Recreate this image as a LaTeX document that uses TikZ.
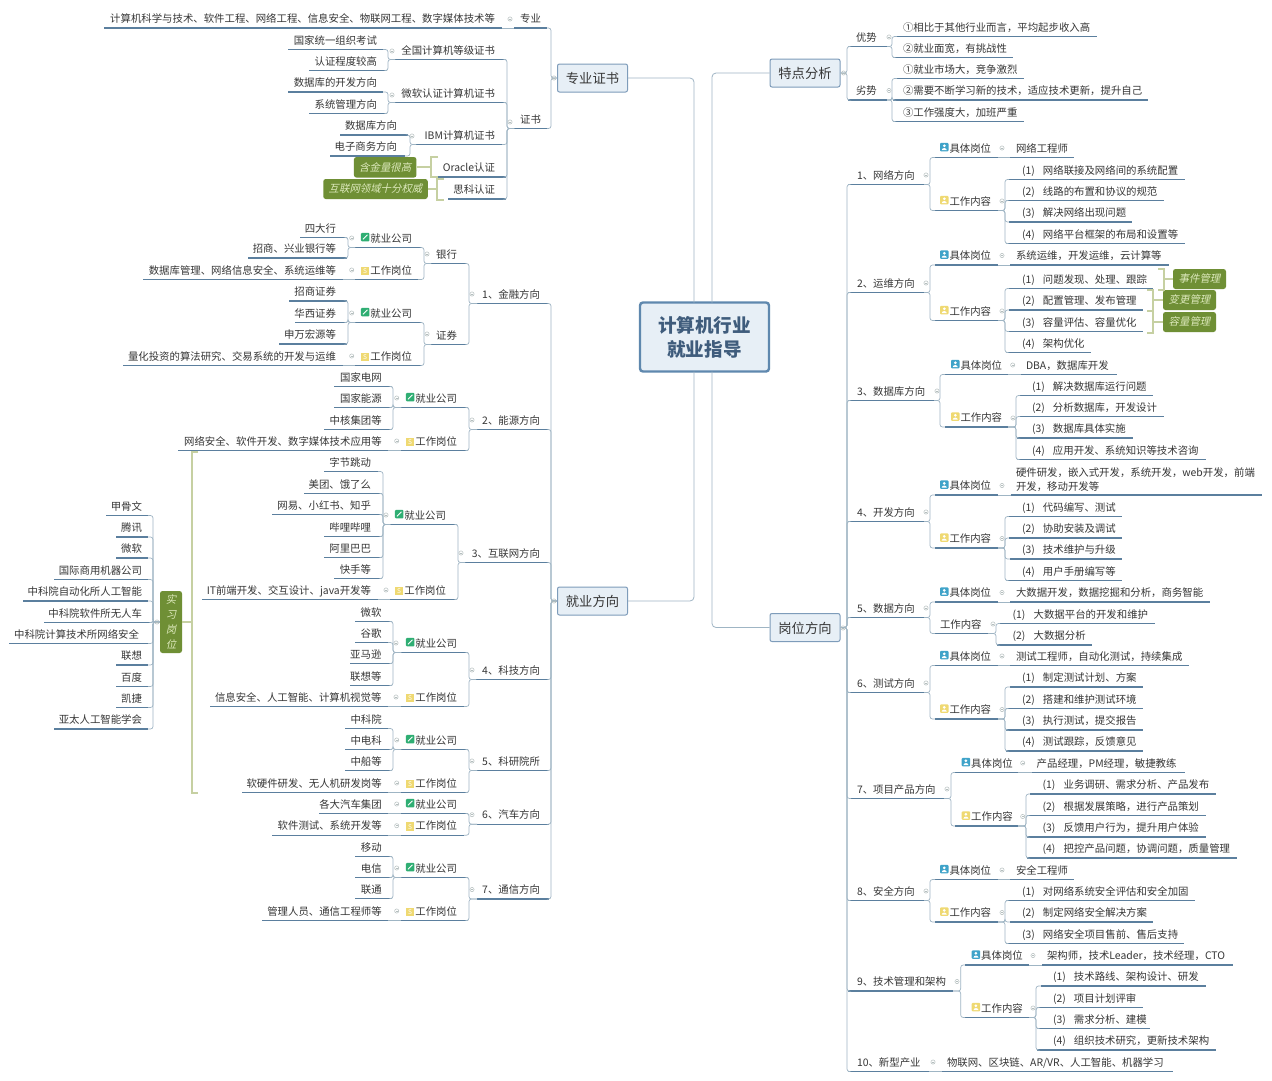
\documentclass[tikz,border=0pt]{standalone}
\usepackage{fontspec}
\setmainfont{Noto Sans CJK SC}
\newfontfamily\slfont[FakeSlant=0.22]{Noto Sans CJK SC}
\usetikzlibrary{calc}
\definecolor{txt}{HTML}{363636}
\definecolor{ulc}{HTML}{5B7F9E}
\definecolor{conc}{HTML}{9FB5C4}
\definecolor{brkc}{HTML}{C6D0A2}
\definecolor{tagc}{HTML}{6F8F35}
\definecolor{tagt}{HTML}{DDE9BC}
\definecolor{boxf}{HTML}{E7EFF6}
\definecolor{boxd}{HTML}{7E9CBA}
\definecolor{rootd}{HTML}{5F88AE}
\definecolor{roott}{HTML}{3F5C7C}
\definecolor{mkc}{HTML}{B4BEBE}
\definecolor{icg}{HTML}{2FAE73}
\definecolor{icy}{HTML}{EFD972}
\definecolor{icb}{HTML}{3FA3C9}
\newcommand{\fsz}{\fontsize{10.4}{12.5}\selectfont}
\newcommand{\gp}{~~\hspace{3.5pt}}
\tikzset{
 leaf/.style={inner sep=0pt,outer sep=0pt,minimum height=19pt,text height=9.5pt,text depth=1pt,font=\fsz,text=txt},
 leafm/.style={inner sep=0pt,outer sep=0pt,font=\fontsize{10.4}{13.5}\selectfont,text=txt},
 ul/.style={draw=ulc,line width=1.1pt},
 conn/.style={draw=conc,line width=0.7pt,rounded corners=2.5pt},
 trunk/.style={draw=conc,line width=0.8pt,rounded corners=4pt},
 mkr/.style={draw=mkc,line width=0.5pt},
 brk/.style={draw=brkc,line width=2pt},
 secbox/.style={draw=boxd,fill=boxf,line width=1pt,rounded corners=2pt,inner sep=0pt,minimum width=70pt,minimum height=28pt,text=txt,text height=12.5pt,text depth=1pt,font=\fontsize{13.3}{16}\selectfont},
 rootbox/.style={draw=rootd,fill=boxf,line width=2.4pt,rounded corners=3pt,inner sep=0pt,minimum width=129pt,minimum height=69pt,text=roott,align=center,font=\fontsize{18.6}{24}\selectfont\bfseries},
 tagbox/.style={fill=tagc,rounded corners=2.5pt,inner sep=0pt,text=tagt,font=\fontsize{10.4}{14.7}\selectfont\slfont,align=center},
}
\newcommand{\icBody}{\fill[white] (4.25,5.6) circle (1.5); \fill[white] (1.7,1.2) .. controls (1.9,4) and (6.6,4) .. (6.8,1.2) -- cycle;}
\newcommand{\icG}{\tikz[x=1pt,y=1pt,baseline={(0,0.9)}]{\fill[icg,rounded corners=1pt] (0,0) rectangle (8.5,8.5); \draw[white,line width=1pt] (2,2) -- (6.6,6.6);}\hspace{1pt}}
\newcommand{\icB}{\tikz[x=1pt,y=1pt,baseline={(0,0.9)}]{\fill[icb,rounded corners=1pt] (0,0) rectangle (8.5,8.5); \icBody}\hspace{1pt}}
\newcommand{\icP}{\tikz[x=1pt,y=1pt,baseline={(0,0.9)}]{\fill[icy,rounded corners=1pt] (0,0) rectangle (8.5,8.5); \icBody}\hspace{1pt}}
\newcommand{\icS}{\raisebox{-0.9pt}{\makebox[8.5pt][l]{\textcolor{icy}{\rule{8.5pt}{8.5pt}}\llap{\makebox[8.5pt]{\raisebox{1.2pt}{\fontsize{6.5}{7}\selectfont\textcolor{white}{S}}}}}}\hspace{1pt}}
% name xl xr text-right yc text
\newcommand{\LN}[6]{\pgfmathsetmacro\tmW{#3-#2}\pgfmathsetmacro\tmP{#3-#4}\pgfmathsetmacro\tmX{(#2+#3)/2}%
 \node[leaf,minimum width=\tmW pt] (#1) at (\tmX,#5) {\makebox[\tmW pt][r]{#6\hspace{\tmP pt}}};
 \draw[ul] (#1.south west) -- (#1.south east);}
% name xl xr text-left yc text
\newcommand{\RN}[6]{\pgfmathsetmacro\tmW{#3-#2}\pgfmathsetmacro\tmP{#4-#2}\pgfmathsetmacro\tmX{(#2+#3)/2}%
 \node[leaf,minimum width=\tmW pt] (#1) at (\tmX,#5) {\makebox[\tmW pt][l]{\hspace{\tmP pt}#6}};
 \draw[ul] (#1.south west) -- (#1.south east);}
\newcommand{\brL}[3]{\coordinate (tmS) at (#2,0);\foreach \c in {#3}{\draw[conn] (#1) -- (#1 -| tmS) -- (\c.south east -| tmS) -- (\c.south east);}}
\newcommand{\brR}[3]{\coordinate (tmS) at (#2,0);\foreach \c in {#3}{\draw[conn] (#1) -- (#1 -| tmS) -- (\c.south west -| tmS) -- (\c.south west);}}
\newcommand{\lkL}[2]{\draw[conn] (#1.south east) -- (#2.south west);}
\newcommand{\lkR}[2]{\draw[conn] (#1.south east) -- (#2.south west);}
\newcommand{\mk}[2]{\draw[mkr] (#1,#2) circle (2.1pt); \draw[mkr] ({#1-1.2},#2) -- ({#1+1.2},#2);}
\begin{document}
\begin{tikzpicture}[x=1pt,y=-1pt]
\useasboundingbox (0,0) rectangle (1272,1080);
\fill[white] (0,0) rectangle (1272,1080);
% ---------- centre and main branches
\node[rootbox] (root) at (704.5,337) {\raisebox{-2pt}{计算机行业}\\\raisebox{-2pt}{就业指导}};
\node[secbox] (bZS) at (592.5,78) {专业证书};
\node[secbox] (bJY) at (592.5,601) {就业方向};
\node[secbox] (bTD) at (805,73) {特点分析};
\node[secbox] (bGW) at (805,627.5) {岗位方向};
\coordinate (rTL) at (694,302.5);
\coordinate (rTR) at (712,302.5);
\coordinate (rBL) at (694,371.5);
\coordinate (rBR) at (712,371.5);
\draw[trunk] (rTL) |- (bZS.east);
\draw[trunk] (rTR) |- (bTD.west);
\draw[trunk] (rBL) |- (bJY.east);
\draw[trunk] (rBR) |- (bGW.west);
% ---------- 专业证书
\LN{zy}{514}{547}{541}{18.5}{专业}
\LN{zyl}{104}{502}{495}{18.5}{计算机科学与技术、软件工程、网络工程、信息安全、物联网工程、数字媒体技术等}
\LN{zs}{514}{547}{541}{119}{证书}
\LN{qg}{395}{506}{495}{50}{全国计算机等级证书}
\LN{wr}{395}{506}{495}{93}{微软认证计算机证书}
\LN{ibm}{416}{502}{495}{135}{IBM计算机证书}
\LN{ora}{438}{506}{495}{167.5}{Oracle认证}
\LN{cis}{448}{506}{495}{189.5}{思科认证}
\LN{qgA}{288}{383}{377}{40}{国家统一组织考试}
\LN{qgB}{309}{387}{377}{61}{认证程度较高}
\LN{wrA}{288}{383}{377}{82.5}{数据库的开发方向}
\LN{wrB}{309}{387}{377}{104}{系统管理方向}
\LN{ibA}{340}{408}{397}{125.5}{数据库方向}
\LN{ibB}{330}{405}{397}{146.5}{电子商务方向}
\brL{bZS.west}{551}{zy,zs}
\lkL{zyl}{zy}
\brL{zs.south west}{507}{qg,wr,ibm,ora,cis}
\brL{qg.south west}{388}{qgA,qgB}
\brL{wr.south west}{388}{wrA,wrB}
\brL{ibm.south west}{410}{ibA,ibB}
\node[tagbox,minimum width=62.5pt,minimum height=20.5pt] (tgA) at (385.2,167.3) {含金量很高};
\node[tagbox,minimum width=104.5pt,minimum height=20pt] (tgB) at (375.5,189) {互联网领域十分权威};
\draw[brk] (438,156.5) -- (431,156.5) -- (431,177) -- (438,177);
\draw[brk] (tgA.east) -- (431,167.3);
\draw[brk] (444,178.5) -- (437,178.5) -- (437,200) -- (444,200);
\draw[brk] (tgB.east) -- (437,189);
\mk{554}{78}\mk{510}{19}\mk{510}{122}\mk{392}{51}\mk{392}{95}\mk{412}{136}
% ---------- 1 金融
\LN{jA}{477}{549}{540}{294}{1、金融方向}
\LN{jAa}{431}{467}{457}{254}{银行}
\LN{jAb}{431}{467}{457}{335}{证券}
\LN{jA1}{355}{422}{412}{238}{\icG 就业公司}
\LN{jA2}{355}{418}{412}{270}{\icS 工作岗位}
\LN{jA3}{355}{422}{412}{313}{\icG 就业公司}
\LN{jA4}{355}{422}{412}{356}{\icS 工作岗位}
\LN{jAx}{300}{347}{336}{228}{四大行}
\LN{jAy}{248}{347}{336}{248.5}{招商、兴业银行等}
\LN{jAz}{143}{343}{336}{270}{数据库管理、网络信息安全、系统运维等}
\LN{jAp}{289}{347}{336}{291.5}{招商证券}
\LN{jAq}{295}{347}{336}{313}{华西证券}
\LN{jAr}{279}{347}{336}{334.5}{申万宏源等}
\LN{jAs}{123}{343}{336}{356}{量化投资的算法研究、交易系统的开发与运维}
\brL{jA.south west}{469}{jAa,jAb}
\brL{jAa.south west}{424}{jA1,jA2}
\brL{jAb.south west}{424}{jA3,jA4}
\brL{jA1.south west}{348}{jAx,jAy}
\brL{jA3.south west}{348}{jAp,jAq,jAr}
\lkL{jAz}{jA2}\lkL{jAs}{jA4}
\mk{472}{294}\mk{427}{254}\mk{427}{334}\mk{351.7}{238}\mk{351.7}{270}\mk{351.7}{313}\mk{351.7}{356}
% ---------- 2 能源
\LN{jB}{477}{549}{540}{420}{2、能源方向}
\LN{jB1}{401}{468}{457}{398}{\icG 就业公司}
\LN{jB2}{401}{468}{457}{441}{\icS 工作岗位}
\LN{jBa}{334}{392}{381.7}{377}{国家电网}
\LN{jBb}{334}{392}{381.7}{398}{国家能源}
\LN{jBc}{324}{392}{381.7}{420}{中核集团等}
\LN{jBd}{178}{388}{381.7}{441}{网络安全、软件开发、数字媒体技术应用等}
\brL{jB.south west}{469}{jB1,jB2}
\brL{jB1.south west}{393}{jBa,jBb,jBc}
\lkL{jBd}{jB2}
\mk{472}{420}\mk{396.7}{398}\mk{396.7}{441}
% ---------- 3 互联网
\LN{jC}{465}{549}{540}{553}{3、互联网方向}
\LN{jC1}{390}{457}{446}{515}{\icG 就业公司}
\LN{jC2}{390}{457}{446}{590}{\icS 工作岗位}
\LN{jCa}{324}{378}{371}{462}{字节跳动}
\LN{jCb}{304}{382}{371}{484}{美团、饿了么}
\LN{jCc}{272}{382}{371}{505}{网易、小红书、知乎}
\LN{jCd}{324}{382}{371}{527}{哔哩哔哩}
\LN{jCe}{324}{382}{371}{548}{阿里巴巴}
\LN{jCf}{334}{382}{371}{569}{快手等}
\LN{jCg}{202}{378}{371}{590}{IT前端开发、交互设计、java开发等}
\brL{jC.south west}{458}{jC1,jC2}
\brL{jC1.south west}{383}{jCa,jCb,jCc,jCd,jCe,jCf}
\lkL{jCg}{jC2}
\mk{461}{553}\mk{386}{515}\mk{386}{590}
% ---------- 4 科技
\LN{jD}{476}{549}{540}{670}{4、科技方向}
\LN{jD1}{401}{468}{457}{643}{\icG 就业公司}
\LN{jD2}{401}{464}{457}{697}{\icS 工作岗位}
\LN{jDa}{355}{392}{381.4}{612}{微软}
\LN{jDb}{355}{388}{381.4}{633}{谷歌}
\LN{jDc}{350}{392}{381.4}{654}{亚马逊}
\LN{jDd}{350}{392}{381.4}{676}{联想等}
\LN{jDe}{210}{388}{381.4}{697}{信息安全、人工智能、计算机视觉等}
\brL{jD.south west}{469}{jD1,jD2}
\brL{jD1.south west}{393}{jDa,jDb,jDc,jDd}
\lkL{jDe}{jD2}
\mk{472}{670}\mk{396}{643}\mk{396}{697}
% ---------- 5 科研院所
\LN{jE}{477}{549}{540}{761}{5、科研院所}
\LN{jE1}{401}{468}{457}{740}{\icG 就业公司}
\LN{jE2}{401}{468}{457}{783}{\icS 工作岗位}
\LN{jEa}{345}{388}{381.7}{719}{中科院}
\LN{jEb}{345}{392}{381.7}{740}{中电科}
\LN{jEc}{345}{392}{381.7}{761}{中船等}
\LN{jEd}{242}{388}{381.7}{783}{软硬件研发、无人机研发岗等}
\brL{jE.south west}{469}{jE1,jE2}
\brL{jE1.south west}{393}{jEa,jEb,jEc}
\lkL{jEd}{jE2}
\mk{472}{761}\mk{396.7}{740}\mk{396.7}{783}
% ---------- 6 汽车
\LN{jF}{477}{549}{540}{814.7}{6、汽车方向}
\LN{jF1}{401}{468}{457}{804}{\icG 就业公司}
\LN{jF2}{401}{464}{457}{825.7}{\icS 工作岗位}
\LN{jFa}{319}{388}{381.7}{804}{各大汽车集团}
\LN{jFb}{272}{388}{381.7}{825.7}{软件测试、系统开发等}
\brL{jF.south west}{469}{jF1,jF2}
\lkL{jFa}{jF1}\lkL{jFb}{jF2}
\mk{472}{814.7}\mk{396.7}{804}\mk{396.7}{825.7}
% ---------- 7 通信
\LN{jG}{477}{549}{540}{889.5}{7、通信方向}
\LN{jG1}{401}{468}{457}{868}{\icG 就业公司}
\LN{jG2}{401}{468}{457}{911}{\icS 工作岗位}
\LN{jGa}{355}{392}{381.7}{847}{移动}
\LN{jGb}{355}{392}{381.7}{868}{电信}
\LN{jGc}{355}{392}{381.7}{889}{联通}
\LN{jGd}{262}{388}{381.7}{911}{管理人员、通信工程师等}
\brL{jG.south west}{469}{jG1,jG2}
\brL{jG1.south west}{393}{jGa,jGb,jGc}
\lkL{jGd}{jG2}
\mk{472}{889.5}\mk{396.7}{868}\mk{396.7}{911}
\brL{bJY.west}{551}{jA,jB,jC,jD,jE,jF,jG}
\mk{554}{601}
% ---------- 实习岗位
\node[tagbox,minimum width=22pt,minimum height=62pt] (sx) at (171,622) {实\\习\\岗\\位};
\draw[brk] (198,452) -- (192,452) -- (192,793) -- (198,793);
\draw[brk] (sx.east) -- (192,622);
\LN{sA}{106}{148}{142}{506}{甲骨文}
\LN{sB}{116}{148}{142}{527.5}{腾讯}
\LN{sC}{116}{148}{142}{548.5}{微软}
\LN{sD}{54}{148}{142}{570}{国际商用机器公司}
\LN{sE}{23}{148}{142}{591.5}{中科院自动化所人工智能}
\LN{sF}{44}{152}{142}{613}{中科院软件所无人车}
\LN{sG}{9}{148}{139}{634}{中科院计算技术所网络安全}
\LN{sH}{116}{148}{142}{655.5}{联想}
\LN{sI}{116}{148}{142}{677}{百度}
\LN{sJ}{116}{148}{142}{698}{凯捷}
\LN{sK}{54}{148}{142}{719.5}{亚太人工智能学会}
\brL{sx.west}{153}{sA,sB,sC,sD,sE,sF,sG,sH,sI,sJ,sK}
\mk{157}{622}
% ---------- 特点分析
\RN{tA}{848}{887}{856}{37}{优势}
\RN{tB}{848}{887}{856}{90.5}{劣势}
\RN{tAa}{897}{1097}{903}{27}{①相比于其他行业而言，平均起步收入高}
\RN{tAb}{893}{1013}{903}{48}{②就业面宽，有挑战性}
\RN{tBa}{897}{1024}{903}{69}{①就业市场大，竞争激烈}
\RN{tBb}{893}{1148}{903}{90.5}{②需要不断学习新的技术，适应技术更新，提升自己}
\RN{tBc}{893}{1024}{903}{112}{③工作强度大，加班严重}
\brR{bTD.east}{847}{tA,tB}
\brR{tA.south east}{892}{tAa,tAb}
\brR{tB.south east}{892}{tBa,tBb,tBc}
\mk{843.6}{73}\mk{889}{37}\mk{889}{90.5}
% ---------- 1 网络方向
\RN{p1}{848}{924}{857}{175}{1、网络方向}
\RN{p1a}{935}{998}{940}{148}{\icB 具体岗位}
\RN{p1c}{1010}{1074}{1016}{148}{网络工程师}
\RN{p1b}{935}{998}{940}{201}{\icP 工作内容}
\RN{p1d}{1009}{1185}{1022}{170}{(1)\gp 网络联接及网络间的系统配置}
\RN{p1e}{1006}{1164}{1022}{191}{(2)\gp 线路的布置和协议的规范}
\RN{p1f}{1009}{1132}{1022}{212.5}{(3)\gp 解决网络出现问题}
\RN{p1g}{1006}{1185}{1022}{234}{(4)\gp 网络平台框架的布局和设置等}
\brR{p1.south east}{930}{p1a,p1b}
\lkR{p1a}{p1c}
\brR{p1b.south east}{1005}{p1d,p1e,p1f,p1g}
\mk{926}{175}\mk{1002}{148}\mk{1002}{201}
% ---------- 2 运维方向
\RN{p2}{848}{924}{857}{283}{2、运维方向}
\RN{p2a}{935}{998}{940}{255.5}{\icB 具体岗位}
\RN{p2c}{1010}{1169}{1016}{255.5}{系统运维，开发运维，云计算等}
\RN{p2b}{935}{998}{940}{311}{\icP 工作内容}
\RN{p2d}{1009}{1153}{1022}{279}{(1)\gp 问题发现、处理、跟踪}
\RN{p2e}{1009}{1143}{1022}{300.5}{(2)\gp 配置管理、发布管理}
\RN{p2f}{1009}{1143}{1022}{322}{(3)\gp 容量评估、容量优化}
\RN{p2g}{1006}{1091}{1022}{343}{(4)\gp 架构优化}
\brR{p2.south east}{930}{p2a,p2b}
\lkR{p2a}{p2c}
\brR{p2b.south east}{1005}{p2d,p2e,p2f,p2g}
\mk{926}{283}\mk{1002}{255.5}\mk{1002}{311}
\node[tagbox,minimum width=53pt,minimum height=20pt] (tgC) at (1199.5,279) {事件管理};
\node[tagbox,minimum width=53pt,minimum height=20pt] (tgD) at (1189.5,300) {变更管理};
\node[tagbox,minimum width=53pt,minimum height=20pt] (tgE) at (1189.5,322) {容量管理};
\draw[brk] (1158,268.5) -- (1164,268.5) -- (1164,289.5) -- (1158,289.5);
\draw[brk] (tgC.west) -- (1164,279);
\draw[brk] (1147,289.5) -- (1153,289.5) -- (1153,311) -- (1147,311);
\draw[brk] (tgD.west) -- (1153,300);
\draw[brk] (1147,311) -- (1153,311) -- (1153,332.5) -- (1147,332.5);
\draw[brk] (tgE.west) -- (1153,322);
% ---------- 3 数据库方向
\RN{p3}{848}{934}{857}{391}{3、数据库方向}
\RN{p3a}{945}{1008}{951}{365}{\icB 具体岗位}
\RN{p3c}{1021}{1117}{1026}{365}{DBA，数据库开发}
\RN{p3b}{945}{1008}{951}{417.5}{\icP 工作内容}
\RN{p3d}{1020}{1153}{1032}{386}{(1)\gp 解决数据库运行问题}
\RN{p3e}{1020}{1164}{1032}{407}{(2)\gp 分析数据库，开发设计}
\RN{p3f}{1017}{1133}{1032}{428.5}{(3)\gp 数据库具体实施}
\RN{p3g}{1017}{1206}{1032}{450}{(4)\gp 应用开发、系统知识等技术咨询}
\brR{p3.south east}{940}{p3a,p3b}
\lkR{p3a}{p3c}
\brR{p3b.south east}{1016}{p3d,p3e,p3f,p3g}
\mk{937}{391}\mk{1012.7}{365}\mk{1013}{418}
% ---------- 4 开发方向
\RN{p4}{848}{924}{857}{512}{4、开发方向}
\RN{p4a}{935}{998}{940}{485.5}{\icB 具体岗位}
\node[leafm,minimum height=33pt,text width=245.7pt,align=left] (p4c) at (1138.85,479.5) {硬件研发，嵌入式开发，系统开发，web开发，前端\\开发，移动开发等};
\draw[ul] ($(p4c.south west)+(-5.3,-1)$) -- ($(p4c.south east)+(0,-1)$);
\RN{p4b}{935}{998}{940}{538.5}{\icP 工作内容}
\RN{p4d}{1009}{1122}{1022}{507}{(1)\gp 代码编写、测试}
\RN{p4e}{1009}{1122}{1022}{528.5}{(2)\gp 协助安装及调试}
\RN{p4f}{1010}{1122}{1022}{549.5}{(3)\gp 技术维护与升级}
\RN{p4g}{1006}{1122}{1022}{571}{(4)\gp 用户手册编写等}
\brR{p4.south east}{930}{p4a,p4b}
\draw[conn] (p4a.south east) -- ($(p4c.south west)+(-5.3,-1)$);
\brR{p4b.south east}{1005}{p4d,p4e,p4f,p4g}
\mk{926}{512}\mk{1002}{485.5}\mk{1002}{538.5}
% ---------- 5 数据方向
\RN{p5}{848}{924}{857}{608}{5、数据方向}
\RN{p5a}{935}{998}{940}{592.5}{\icB 具体岗位}
\RN{p5c}{1010}{1210}{1016}{592.5}{大数据开发，数据挖掘和分析，商务智能}
\RN{p5b}{935}{988}{940}{624}{工作内容}
\RN{p5d}{1000}{1155}{1012.7}{614}{(1)\gp 大数据平台的开发和维护}
\RN{p5e}{997}{1092}{1012.7}{635.5}{(2)\gp 大数据分析}
\brR{p5.south east}{930}{p5a,p5b}
\lkR{p5a}{p5c}
\brR{p5b.south east}{996}{p5d,p5e}
\mk{926}{608}\mk{1002}{592.5}\mk{993}{624}
% ---------- 6 测试方向
\RN{p6}{848}{924}{857}{683}{6、测试方向}
\RN{p6a}{935}{998}{940}{656}{\icB 具体岗位}
\RN{p6c}{1010}{1189}{1016}{656}{测试工程师，自动化测试，持续集成}
\RN{p6b}{935}{998}{940}{709.5}{\icP 工作内容}
\RN{p6d}{1010}{1143}{1022}{677.5}{(1)\gp 制定测试计划、方案}
\RN{p6e}{1006}{1143}{1022}{699}{(2)\gp 搭建和维护测试环境}
\RN{p6f}{1006}{1143}{1022}{720.5}{(3)\gp 执行测试，提交报告}
\RN{p6g}{1006}{1143}{1022}{741.5}{(4)\gp 测试跟踪，反馈意见}
\brR{p6.south east}{930}{p6a,p6b}
\lkR{p6a}{p6c}
\brR{p6b.south east}{1005}{p6d,p6e,p6f,p6g}
\mk{926}{683}\mk{1002}{656}\mk{1002}{709.5}
% ---------- 7 项目产品方向
\RN{p7}{851}{944}{857}{789}{7、项目产品方向}
\RN{p7a}{955}{1018}{961.7}{763}{\icB 具体岗位}
\RN{p7c}{1032}{1185}{1036.7}{763}{产品经理，PM经理，敏捷教练}
\RN{p7b}{955}{1018}{961.7}{816.5}{\icP 工作内容}
\RN{p7d}{1030}{1216}{1042.7}{784.5}{(1)\gp 业务调研、需求分析、产品发布}
\RN{p7e}{1027}{1206}{1042.7}{806}{(2)\gp 根据发展策略，进行产品策划}
\RN{p7f}{1027}{1206}{1042.7}{827.5}{(3)\gp 反馈用户行为，提升用户体验}
\RN{p7g}{1027}{1237}{1042.7}{848.5}{(4)\gp 把控产品问题，协调问题，质量管理}
\brR{p7.south east}{951}{p7a,p7b}
\lkR{p7a}{p7c}
\brR{p7b.south east}{1026}{p7d,p7e,p7f,p7g}
\mk{947}{789}\mk{1022.7}{763}\mk{1022.7}{816.5}
% ---------- 8 安全方向
\RN{p8}{848}{924}{857}{891}{8、安全方向}
\RN{p8a}{935}{998}{940}{870}{\icB 具体岗位}
\RN{p8c}{1010}{1074}{1016}{870}{安全工程师}
\RN{p8b}{935}{998}{940}{912.5}{\icP 工作内容}
\RN{p8d}{1006}{1195}{1022}{891}{(1)\gp 对网络系统安全评估和安全加固}
\RN{p8e}{1010}{1153}{1022}{912.5}{(2)\gp 制定网络安全解决方案}
\RN{p8f}{1006}{1184}{1022}{934}{(3)\gp 网络安全项目售前、售后支持}
\brR{p8.south east}{930}{p8a,p8b}
\lkR{p8a}{p8c}
\brR{p8b.south east}{1005}{p8d,p8e,p8f}
\mk{926}{891}\mk{1002}{870}\mk{1002}{912.5}
% ---------- 9 技术管理和架构
\RN{p9}{848}{953}{857}{981.5}{9、技术管理和架构}
\RN{p9a}{965}{1029}{971.7}{955.5}{\icB 具体岗位}
\RN{p9c}{1042}{1233}{1047}{955.5}{架构师，技术Leader，技术经理，CTO}
\RN{p9b}{965}{1029}{971.7}{1008}{\icP 工作内容}
\RN{p9d}{1041}{1206}{1053}{976.5}{(1)\gp 技术路线、架构设计、研发}
\RN{p9e}{1037}{1143}{1053}{998}{(2)\gp 项目计划评审}
\RN{p9f}{1037}{1150}{1053}{1019}{(3)\gp 需求分析、建模}
\RN{p9g}{1037}{1216}{1053}{1040.5}{(4)\gp 组织技术研究，更新技术架构}
\brR{p9.south east}{960.7}{p9a,p9b}
\lkR{p9a}{p9c}
\brR{p9b.south east}{1036}{p9d,p9e,p9f,p9g}
\mk{957}{981.5}\mk{1033}{955.5}\mk{1033}{1008}
% ---------- 10 新型产业
\RN{p10}{848}{929}{857}{1062}{10、新型产业}
\RN{p10a}{942}{1173}{947}{1062}{物联网、区块链、AR/VR、人工智能、机器学习}
\lkR{p10}{p10a}
\mk{933}{1062}
\brR{bGW.east}{847}{p1,p2,p3,p4,p5,p6,p7,p8,p9,p10}
\mk{843}{628}
\end{tikzpicture}
\end{document}
